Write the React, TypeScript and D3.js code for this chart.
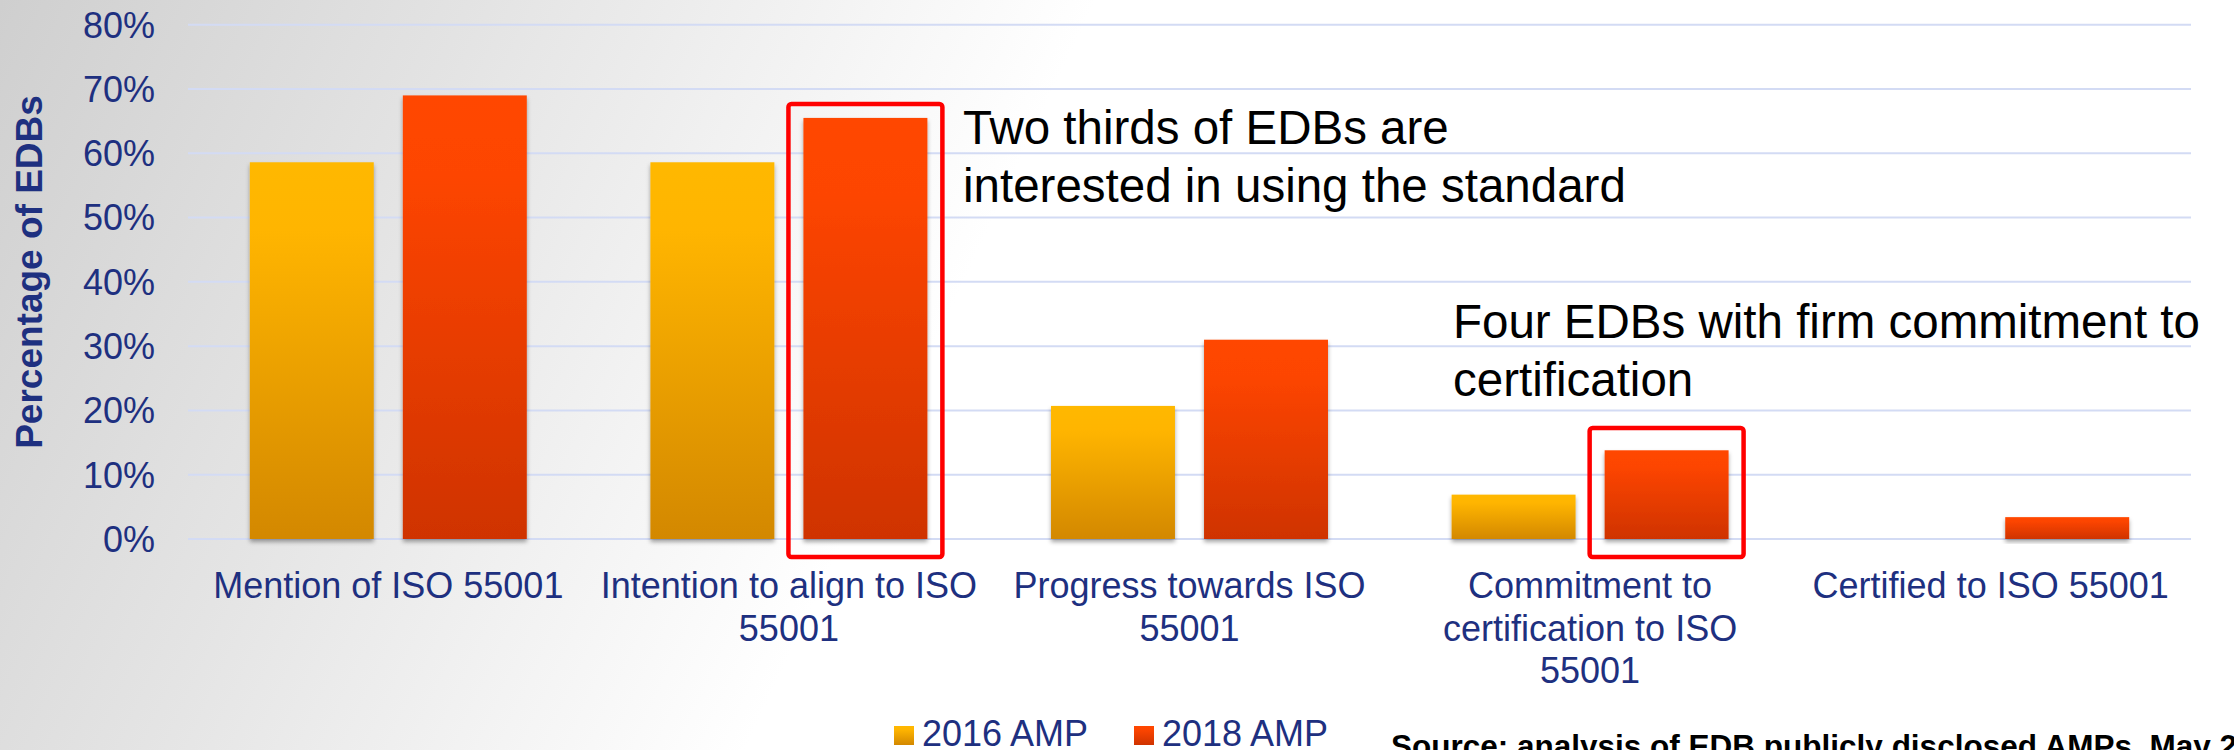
import React from "react";
import * as d3 from "d3";

const categories: string[][] = [
  ["Mention of ISO 55001"],
  ["Intention to align to ISO", "55001"],
  ["Progress towards ISO", "55001"],
  ["Commitment to", "certification to ISO", "55001"],
  ["Certified to ISO 55001"],
];
const seriesNames = ["2016 AMP", "2018 AMP"];
const values2016 = [0.586, 0.586, 0.207, 0.069, 0];
const values2018 = [0.69, 0.655, 0.31, 0.138, 0.034];
const yTicks = [0, 0.1, 0.2, 0.3, 0.4, 0.5, 0.6, 0.7, 0.8];
const yTitle = "Percentage of EDBs";
const annotations = [
  { cat: 1, lines: ["Two thirds of EDBs are", "interested in using the standard"] },
  { cat: 3, lines: ["Four EDBs with firm commitment to", "certification"] },
];
const sourceText = "Source: analysis of EDB publicly disclosed AMPs, May 2018";

const W = 2234;
const H = 750;
const NAVY = "#1e3080";
const FONT = "'Liberation Sans', Arial, sans-serif";

export default function App() {
  const catKeys = categories.map((c) => c.join(" "));
  const x0 = d3.scaleBand<string>().domain(catKeys).range([188, 2191]).paddingInner(0).paddingOuter(0);
  const bw0 = x0.bandwidth();
  const x1 = d3.scaleBand<string>().domain(seriesNames).range([bw0 * 0.1543, bw0 * (1 - 0.1543)]).paddingInner(0.19);
  const y = d3.scaleLinear().domain([0, 0.8]).range([539, 24.7]);
  const fmt = d3.format(".0%");
  const seriesData = [values2016, values2018];
  const gradIds = ["g2016", "g2018"];

  // annotation layout
  const boxTops = [104, 428];
  const textPos = [
    { x: 963, y: 144 },
    { x: 1453, y: 338 },
  ];

  return (
    <svg
      width={W}
      height={H}
      style={{ position: "fixed", left: 0, top: 0, display: "block" }}
      fontFamily={FONT}
    >
      <defs>
        <linearGradient id="bg" gradientUnits="userSpaceOnUse" x1={0} y1={0} x2={900} y2={420}>
          <stop offset="0" stopColor="#cfcfcf" />
          <stop offset="0.45" stopColor="#e4e4e4" />
          <stop offset="1" stopColor="#ffffff" />
        </linearGradient>
        <linearGradient id="g2016" x1="0" y1="0" x2="0" y2="1">
          <stop offset="0" stopColor="#ffb800" />
          <stop offset="0.18" stopColor="#ffb500" />
          <stop offset="1" stopColor="#d38800" />
        </linearGradient>
        <linearGradient id="g2018" x1="0" y1="0" x2="0" y2="1">
          <stop offset="0" stopColor="#ff4700" />
          <stop offset="0.18" stopColor="#fd4500" />
          <stop offset="1" stopColor="#cf3300" />
        </linearGradient>
        <filter id="shadow" x="-10%" y="-10%" width="120%" height="130%">
          <feDropShadow dx="0" dy="3" stdDeviation="2.2" floodColor="#000" floodOpacity="0.35" />
        </filter>
      </defs>

      <rect x={0} y={0} width={W} height={H} fill="url(#bg)" />

      {/* gridlines */}
      {yTicks.map((t) => (
        <line key={t} x1={188} x2={2191} y1={y(t)} y2={y(t)} stroke="#d3dbf4" strokeWidth={2} />
      ))}

      {/* y tick labels */}
      {yTicks.map((t) => (
        <text key={"l" + t} x={155} y={y(t) + 12.8} textAnchor="end" fontSize={36} fill={NAVY}>
          {fmt(t)}
        </text>
      ))}

      {/* y title */}
      <text
        transform={`translate(42,272) rotate(-90)`}
        textAnchor="middle"
        fontSize={37}
        fontWeight="bold"
        fill={NAVY}
      >
        {yTitle}
      </text>

      {/* bars */}
      {seriesNames.map((s, si) =>
        seriesData[si].map((v, ci) =>
          v > 0 ? (
            <rect
              key={s + ci}
              x={(x0(catKeys[ci]) as number) + (x1(s) as number)}
              y={y(v)}
              width={x1.bandwidth()}
              height={y(0) - y(v)}
              fill={`url(#${gradIds[si]})`}
              filter="url(#shadow)"
            />
          ) : null
        )
      )}

      {/* category labels */}
      {categories.map((lines, ci) => (
        <text
          key={"c" + ci}
          x={(x0(catKeys[ci]) as number) + bw0 / 2}
          y={598}
          textAnchor="middle"
          fontSize={36}
          fill={NAVY}
        >
          {lines.map((ln, li) => (
            <tspan key={li} x={(x0(catKeys[ci]) as number) + bw0 / 2} y={598 + li * 42.5}>
              {ln}
            </tspan>
          ))}
        </text>
      ))}

      {/* annotation boxes and text */}
      {annotations.map((a, ai) => {
        const bx = (x0(catKeys[a.cat]) as number) + (x1(seriesNames[1]) as number) - 15;
        const bwid = x1.bandwidth() + 30;
        return (
          <g key={"a" + ai}>
            <rect
              x={bx}
              y={boxTops[ai]}
              width={bwid}
              height={557 - boxTops[ai]}
              fill="none"
              stroke="#ff0000"
              strokeWidth={4.5}
              rx={3}
            />
            <text x={textPos[ai].x} y={textPos[ai].y} fontSize={47.5} fill="#000">
              {a.lines.map((ln, li) => (
                <tspan key={li} x={textPos[ai].x} y={textPos[ai].y + li * 58}>
                  {ln}
                </tspan>
              ))}
            </text>
          </g>
        );
      })}

      {/* legend */}
      {seriesNames.map((s, si) => {
        const lx = [894, 1134][si];
        return (
          <g key={"lg" + s}>
            <rect x={lx} y={726} width={20} height={19} fill={`url(#${gradIds[si]})`} />
            <text x={lx + 28} y={746} fontSize={36} fill={NAVY}>
              {s}
            </text>
          </g>
        );
      })}

      {/* source */}
      <text x={1391} y={757} fontSize={31.5} fontWeight="bold" fill="#000">
        {sourceText}
      </text>
    </svg>
  );
}
